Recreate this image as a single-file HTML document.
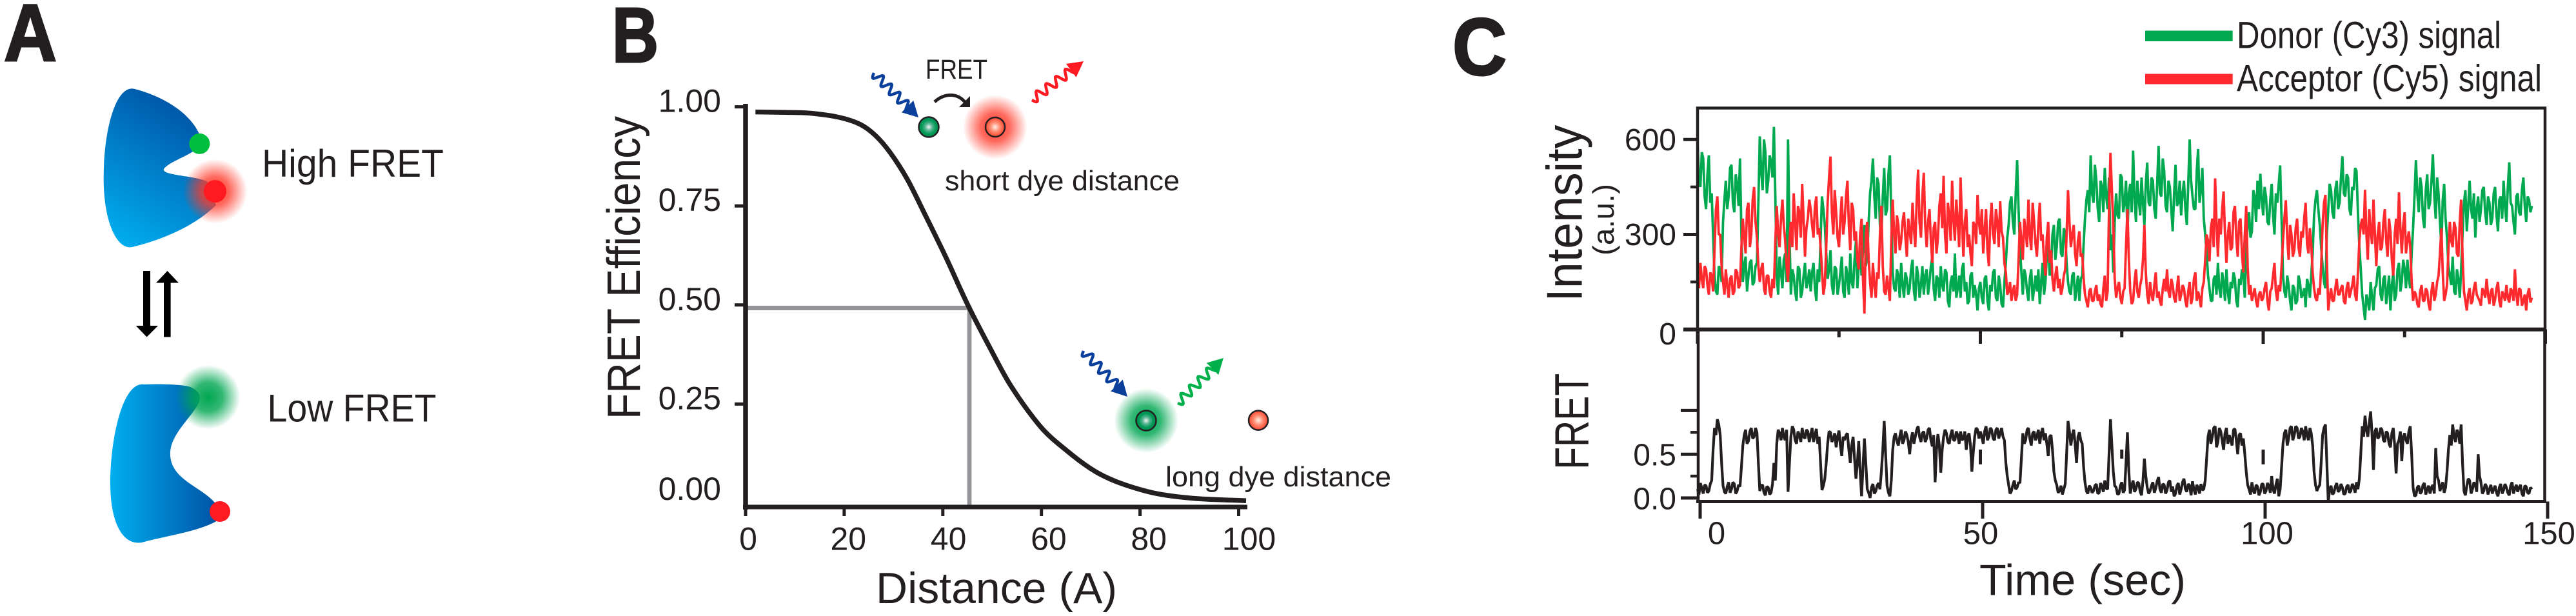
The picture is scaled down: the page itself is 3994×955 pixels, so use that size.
<!DOCTYPE html>
<html lang="en">
<head>
<meta charset="utf-8">
<title>FRET efficiency figure</title>
<style>
html,body{margin:0;padding:0;background:#fff;}
svg{display:block;position:absolute;left:0;top:0;}
text{font-family:"Liberation Sans",sans-serif;fill:#231f20;}
</style>
</head>
<body>
<svg id="fig" xmlns="http://www.w3.org/2000/svg" width="3994" height="955" viewBox="0 0 3994 955">
<defs>
<linearGradient id="gTop" gradientUnits="userSpaceOnUse" x1="170" y1="370" x2="300" y2="170">
<stop offset="0" stop-color="#00aeef"/><stop offset="1" stop-color="#0054a6"/>
</linearGradient>
<linearGradient id="gBot" gradientUnits="userSpaceOnUse" x1="172" y1="0" x2="335" y2="0">
<stop offset="0" stop-color="#00aeef"/><stop offset="1" stop-color="#0054a6"/>
</linearGradient>
<radialGradient id="glowRed">
<stop offset="0" stop-color="#ff2a20" stop-opacity=".95"/><stop offset=".45" stop-color="#ff3a2a" stop-opacity=".75"/><stop offset="1" stop-color="#ff3a2a" stop-opacity="0"/>
</radialGradient>
<radialGradient id="glowGreen">
<stop offset="0" stop-color="#00a651"/><stop offset=".45" stop-color="#00a651" stop-opacity=".8"/><stop offset="1" stop-color="#00a651" stop-opacity="0"/>
</radialGradient>
<radialGradient id="ballGreen">
<stop offset="0" stop-color="#f2f5f2"/><stop offset=".35" stop-color="#5ab595"/><stop offset=".7" stop-color="#009a55"/><stop offset="1" stop-color="#00894f"/>
</radialGradient>
<radialGradient id="ballRed">
<stop offset="0" stop-color="#ffeee8"/><stop offset=".5" stop-color="#ff8a70"/><stop offset="1" stop-color="#f9452f"/>
</radialGradient>
</defs>

<!-- PANEL A -->
<g>
<text x="6" y="94" font-size="125" font-weight="700" textLength="82" lengthAdjust="spacingAndGlyphs" stroke="#231f20" stroke-width="3">A</text>
<path fill="url(#gTop)" d="M209 138 C255 150 296 176 310 210 L312 224 C300 240 262 250 254 262 C250 272 300 272 321 281 L335 318 C300 352 250 372 205 383 C180 388 160 340 160.700 274 C161 200 180 130 209 138 Z"/>
<circle cx="333.500" cy="296.600" r="50" fill="url(#glowRed)"/>
<ellipse cx="309.400" cy="222.900" rx="16" ry="16" fill="#00bf3f"/>
<ellipse cx="333.500" cy="296.600" rx="17.500" ry="17.500" fill="#ff1a22"/>
<text x="406" y="274" font-size="60" textLength="282" lengthAdjust="spacingAndGlyphs">High FRET</text>
<g fill="#000">
<path d="M222 420H233V505H245L227.500 522.500L210.700 505H222Z"/>
<path d="M254 522.500H264.600V438.500H277L259.500 420L242 438.500H254Z"/>
</g>
<path fill="url(#gBot)" d="M224 596 C250 595 285 596 295 600 C310 606 312 616 308 625 C295 650 262 675 264 706 C266 745 315 755 335.800 782.600 L339 806 C310 824 260 830 220 841 C190 846 171 810 171 749 C171 680 190 590 224 596 Z"/>
<circle cx="322.600" cy="615.700" r="50" fill="url(#glowGreen)"/>
<ellipse cx="341" cy="793" rx="16" ry="16" fill="#ff1a22"/>
<text x="414.500" y="653.500" font-size="60" textLength="262" lengthAdjust="spacingAndGlyphs">Low FRET</text>
</g>

<!-- PANEL B -->
<g id="panelB">
<text x="949" y="96" font-size="121" font-weight="700" textLength="72" lengthAdjust="spacingAndGlyphs" stroke="#231f20" stroke-width="3">B</text>
<text transform="translate(992 650) rotate(-90)" font-size="72" textLength="470" lengthAdjust="spacingAndGlyphs">FRET Efficiency</text>
<text x="1358" y="935" font-size="68" textLength="374" lengthAdjust="spacingAndGlyphs">Distance (A)</text>

<circle cx="1543" cy="197" r="50" fill="url(#glowRed)"/>
<circle cx="1440" cy="197" r="15.500" fill="url(#ballGreen)" stroke="#231f20" stroke-width="2.500"/>
<circle cx="1543" cy="197" r="15" fill="url(#ballRed)" stroke="#231f20" stroke-width="2.500"/>
<text x="1435" y="122" font-size="43" textLength="96" lengthAdjust="spacingAndGlyphs">FRET</text>
<path d="M1449 158 C1462 146 1482 142 1496 158" fill="none" stroke="#231f20" stroke-width="5"/>
<path d="M1504 149L1504 166L1487 166Z" fill="#231f20"/>
<text x="1465" y="295" font-size="44" textLength="364" lengthAdjust="spacingAndGlyphs">short dye distance</text>

<circle cx="1777" cy="652" r="50" fill="url(#glowGreen)"/>
<circle cx="1777" cy="652" r="15.500" fill="url(#ballGreen)" stroke="#231f20" stroke-width="2.500"/>
<circle cx="1951" cy="651.600" r="15" fill="url(#ballRed)" stroke="#231f20" stroke-width="2.500"/>
<text x="1807" y="754" font-size="44" textLength="350" lengthAdjust="spacingAndGlyphs">long dye distance</text>
</g>

<!-- PANEL C -->
<g id="panelC">
<text x="2252" y="116" font-size="125" font-weight="700" textLength="84" lengthAdjust="spacingAndGlyphs" stroke="#231f20" stroke-width="3">C</text>
<g>
<rect x="3326" y="47.500" width="135.700" height="16.500" fill="#00a94f"/>
<text x="3468" y="74.300" font-size="58" textLength="410" lengthAdjust="spacingAndGlyphs">Donor (Cy3) signal</text>
<rect x="3326" y="114.500" width="135.700" height="16" fill="#ff2a2e"/>
<text x="3468" y="141.300" font-size="58" textLength="473" lengthAdjust="spacingAndGlyphs">Acceptor (Cy5) signal</text>
</g>
<text transform="translate(2452.700 467.700) rotate(-90)" font-size="78" textLength="274" lengthAdjust="spacingAndGlyphs">Intensity</text>
<text transform="translate(2502 396) rotate(-90)" font-size="46" textLength="111" lengthAdjust="spacingAndGlyphs">(a.u.)</text>
<text transform="translate(2462.500 727.800) rotate(-90)" font-size="74" textLength="149" lengthAdjust="spacingAndGlyphs">FRET</text>
<text x="3069" y="922.600" font-size="68" textLength="320" lengthAdjust="spacingAndGlyphs">Time (sec)</text>
</g>
</svg>

<script>
// ---- Panel B data ----
var distanceValues = [2, 8, 13, 18.8, 23.2, 26.3, 29.3, 32.8, 36.2, 40.6, 45, 49.3, 53.7, 59.4, 63.4, 71.6, 81, 90, 101.5];
var efficiencyValues = [0.987, 0.986, 0.984, 0.974, 0.956, 0.928, 0.885, 0.817, 0.733, 0.621, 0.502, 0.398, 0.298, 0.199, 0.150, 0.075, 0.031, 0.013, 0.006];
var efficiencyTicks = [1.00, 0.75, 0.50, 0.25, 0.00];
var efficiencyTickLabels = ["1.00", "0.75", "0.50", "0.25", "0.00"];
var distanceTicks = [0, 20, 40, 60, 80, 100];
var r0Distance = 45;
var r0Efficiency = 0.5;

// ---- Panel C data: samples on the 0.5 s grid, and the samples between them ----
var sampleStep = 0.25;
var donorSignal = [
590,450,540,380,550,430,170,110,190,340,470,420,520,370,460,540,150,230,170,220,
150,210,610,440,560,470,530,640,170,230,130,240,600,110,170,90,190,120,210,150,
120,210,90,150,420,330,160,250,110,190,140,230,100,170,240,130,280,200,170,330,
230,430,540,350,460,290,510,380,550,180,120,170,210,100,160,130,220,90,170,140,
110,190,150,230,90,160,200,120,180,70,170,240,130,100,210,150,90,180,140,60,
150,80,170,60,120,190,90,140,70,210,330,420,300,535,260,110,170,90,190,130,
120,80,210,150,280,190,330,260,350,230,300,150,110,180,130,90,170,350,440,550,
400,470,340,450,510,380,250,180,430,350,480,400,300,460,565,340,410,480,330,527,
390,470,350,580,420,500,370,450,310,520,400,360,470,330,600,420,380,570,440,350,
240,130,90,170,210,100,150,190,80,130,160,70,140,170,260,370,310,420,470,492,
360,420,330,460,300,400,518,170,100,140,60,130,90,150,110,70,140,170,360,440,
330,200,130,380,440,350,470,400,547,420,480,360,440,500,260,110,30,90,150,60,
140,200,90,170,120,60,180,110,210,150,190,220,130,320,535,370,450,320,490,400,
553,350,430,260,460,290,170,230,110,160,190,400,310,470,350,290,420,380,450,330,
400,350,450,310,420,470,340,528,390,300,430,360,480,340,410,390
];
var donorSignalMid = [
480,560,420,490,400,300,120,200,150,410,380,510,400,490,390,300,200,120,210,140,
200,400,500,600,430,550,480,420,110,180,220,150,300,190,120,200,100,170,130,190,
180,130,190,280,380,240,190,140,200,110,180,120,200,110,150,220,130,260,250,200,
340,470,420,480,330,420,360,490,360,130,190,100,140,180,110,190,120,200,100,200,
170,110,200,130,170,100,140,190,90,150,120,100,170,190,120,80,170,100,110,130,
100,160,90,140,180,100,170,80,150,290,400,340,430,380,180,190,120,160,90,170,
190,150,110,230,170,300,220,340,240,320,210,120,170,90,170,160,270,410,370,430,
520,380,470,370,420,480,300,340,360,490,370,470,430,370,420,470,360,400,460,400,
480,380,460,430,540,390,470,380,430,390,470,430,380,460,470,380,500,400,510,300,
170,90,160,110,130,180,90,120,150,180,90,160,190,100,330,290,440,340,380,410,
450,340,410,360,430,460,350,120,170,90,140,80,170,100,130,160,100,240,410,380,
260,150,300,460,370,440,380,480,430,490,380,450,510,370,190,70,110,60,100,130,
190,110,160,80,170,140,90,190,120,220,130,160,240,420,430,480,350,440,380,470,
420,480,340,410,350,200,140,120,190,100,300,440,390,380,430,380,340,440,370,420,
330,430,360,410,350,390,450,400,340,420,370,440,390,420,370
];
var acceptorSignal = [
170,210,130,190,110,170,250,420,300,150,190,100,170,120,180,140,350,240,400,300,
450,290,150,210,110,170,100,130,390,260,410,280,150,340,430,250,370,460,230,350,
380,290,420,320,190,140,400,546,300,370,260,420,340,470,250,380,310,190,350,50,
340,150,210,100,160,390,120,170,90,410,240,330,280,370,230,310,400,260,505,290,
495,260,380,210,340,290,430,485,240,360,470,280,340,480,230,380,300,200,330,425,
300,240,380,200,400,270,340,405,290,180,120,90,140,110,340,220,310,410,250,340,
230,400,300,170,340,250,120,200,160,130,190,440,260,330,200,310,240,110,70,130,
90,140,110,70,170,120,558,330,100,150,80,130,380,120,90,190,100,160,330,110,
150,90,180,120,75,160,190,100,140,85,170,110,130,70,150,100,180,120,70,150,
300,215,350,477,230,300,436,210,340,260,390,230,350,180,390,110,90,130,70,120,
100,150,60,130,210,90,120,280,408,220,300,250,350,230,290,400,240,270,130,90,
110,330,425,60,130,90,160,110,140,80,150,120,170,90,280,350,441,220,310,410,
200,340,260,380,230,310,170,350,433,240,370,280,260,90,110,70,140,90,120,60,
150,110,170,320,90,140,340,260,320,230,410,120,60,130,90,150,100,75,120,160,
80,130,95,150,70,110,140,85,120,190,75,125,90,60,130,100
];
var acceptorSignalMid = [
130,160,200,140,180,120,380,300,200,110,140,160,110,190,130,260,290,380,260,410,
340,200,190,130,170,120,160,280,300,350,330,200,280,260,340,390,290,350,320,410,
330,390,300,260,110,260,480,370,440,290,350,300,420,330,400,280,220,300,160,300,
220,100,140,180,300,200,110,130,280,300,360,250,340,290,350,270,320,410,340,420,
330,340,280,320,240,390,320,300,400,280,350,410,260,340,340,260,240,340,270,340,
380,310,250,340,300,380,260,310,210,110,150,120,90,220,280,350,260,300,400,270,
330,280,220,290,210,160,170,130,110,170,300,340,300,240,280,230,160,90,120,90,
120,90,80,130,90,380,440,160,130,100,120,260,220,80,150,120,140,220,180,80,
110,140,100,90,130,120,120,160,100,130,90,140,90,120,80,160,90,100,130,220,
280,320,260,340,350,380,300,300,250,370,290,340,240,300,200,140,110,90,110,90,
130,90,120,170,120,140,200,350,290,330,230,320,260,310,350,270,320,180,100,130,
200,400,220,100,90,130,110,130,90,130,100,140,110,180,330,300,300,380,270,300,
300,250,340,280,350,220,300,270,320,330,240,310,150,120,80,120,90,130,80,120,
90,150,240,180,110,250,280,340,240,340,230,90,110,80,130,110,90,130,100,110,
120,75,130,90,120,90,100,130,90,110,130,75,110,110,85
];
var fretSignal = [
.10,.17,.05,.14,.08,.20,.80,.90,.72,.14,.05,.18,.10,.16,.08,.13,.60,.78,.65,.80,
.70,.75,.08,.15,.03,.12,.06,.40,.62,.74,.80,.66,.07,.70,.78,.62,.72,.80,.68,.76,
.72,.64,.79,.70,.09,.22,.62,.75,.68,.58,.77,.48,.66,.74,.40,.70,.22,.65,.02,.68,
.10,.00,.16,.08,.17,.30,.88,.14,.02,.55,.74,.60,.78,.66,.72,.50,.75,.70,.82,.64,
.76,.68,.80,.59,.18,.73,.29,.70,.74,.62,.78,.66,.72,.76,.68,.55,.74,.30,.70,.78,
.76,.62,.82,.70,.78,.66,.80,.74,.70,.40,.15,.08,.20,.12,.17,.74,.66,.80,.60,.76,
.70,.62,.80,.74,.48,.72,.30,.15,.08,.04,.16,.88,.60,.78,.40,.75,.62,.18,.05,.12,
.08,.16,.06,.13,.20,.10,.90,.30,.12,.05,.18,.09,.75,.05,.20,.10,.17,.03,.45,.12,
.08,.18,.11,.24,.06,.15,.09,.20,.13,.05,.17,.10,.22,.07,.14,.19,.04,.12,.16,.10,
.45,.78,.70,.82,.64,.76,.55,.80,.72,.60,.79,.50,.74,.68,.30,.10,.18,.05,.13,.07,
.16,.08,.14,.25,.05,.22,.10,.62,.78,.68,.82,.72,.80,.70,.76,.82,.66,.74,.30,.08,
.15,.72,.84,-.05,.14,.06,.17,.09,.12,.05,.15,.08,.13,.18,.22,.82,.94,.70,.99,.32,
.80,.70,.78,.64,.74,.58,.80,.28,.66,.42,.74,.62,.82,.12,.03,.14,.07,.17,.10,.05,
.15,.57,.20,.13,.06,.30,.72,.84,.64,.74,.84,.08,.14,.20,.10,.15,.50,.18,.08,.13,
.10,.05,.14,.02,.16,.09,.12,.03,.18,.11,.07,.15,.02,.13,.05,.10
];
var fretSignalMid = [
.04,.11,.15,.06,.16,.55,.72,.84,.40,.07,.13,.06,.18,.05,.15,.35,.72,.62,.76,.68,
.80,.40,.14,.06,.13,.04,.16,.20,.78,.66,.70,.78,.40,.82,.66,.76,.64,.70,.78,.64,
.80,.72,.62,.40,.14,.40,.76,.64,.74,.70,.60,.70,.72,.55,.60,.45,.40,.30,.35,.40,
.06,.12,.05,.14,.10,.55,.50,.06,.20,.70,.65,.70,.62,.76,.64,.68,.62,.78,.70,.74,
.64,.78,.66,.72,.55,.60,.55,.78,.64,.72,.66,.76,.62,.66,.76,.70,.60,.52,.80,.68,
.70,.76,.66,.80,.68,.78,.68,.80,.66,.25,.05,.15,.10,.18,.45,.62,.78,.68,.74,.66,
.78,.74,.66,.62,.70,.55,.20,.06,.14,.10,.50,.76,.72,.62,.70,.66,.35,.08,.14,.06,
.14,.05,.17,.07,.11,.50,.60,.14,.04,.14,.06,.40,.30,.14,.07,.18,.07,.20,.25,.05,
.14,.06,.19,.10,.16,.05,.18,.07,.02,.14,.04,.18,.10,.16,.03,.10,.15,.05,.09,.20,
.70,.62,.80,.58,.80,.66,.74,.62,.66,.78,.66,.72,.60,.50,.15,.04,.08,.15,.03,.16,
.05,.17,.06,.10,.15,.02,.35,.74,.60,.80,.66,.82,.68,.80,.66,.72,.80,.60,.15,.12,
.40,.80,.40,.10,.04,.13,.07,.16,.04,.13,.06,.16,.06,.10,.50,.70,.78,.85,.72,.76,
.68,.80,.66,.76,.62,.74,.60,.62,.76,.70,.66,.76,.50,.02,.12,.05,.15,.04,.14,.12,
.05,.25,.08,.18,.12,.55,.60,.70,.78,.62,.40,.03,.22,.05,.18,.07,.25,.05,.16,.04,
.15,.10,.06,.12,.05,.16,.06,.14,.05,.15,.12,.05,.14,.06,.12
];
var intensityMajorTicks = [600, 300, 0];
var intensityMajorLabels = ["600", "300", "0"];
var intensityMinorTicks = [450, 150];
var fretMajorTicks = [0.5, 0.0];
var fretMajorLabels = ["0.5", "0.0"];
var fretUnlabeledTicks = [1.0];
var fretMinorTicks = [0.75, 0.25];
var timeTicks = [0, 50, 100, 150];
var timeTickLabels = ["0", "50", "100", "150"];
var upperTimeTicks = [0, 25, 50, 75, 100, 125, 150];
var strayMarkTimes = [50, 75, 100];

// ---- Axis functions ----
function xDist(d) { return 1156 + 7.645 * d; }
function yEff(e) { return 780 - 614.4 * e; }
function xTrace(t) { return 2632 + 8.77 * t; }
function xLower(t) { return 2636 + 8.76 * t; }
function yInt(v) { return 510.7 - 0.4907 * v; }
function yFret(f) { return 772 - 135.6 * f; }

var NS = "http://www.w3.org/2000/svg";
var panelB = document.getElementById("panelB");
var panelC = document.getElementById("panelC");
var INK = "#231f20";

function interleave(a, b) {
  var out = [];
  for (var i = 0; i < a.length; i++) {
    out.push(a[i]);
    if (i < b.length) out.push(b[i]);
  }
  return out;
}
function line(parent, x1, y1, x2, y2, color, w) {
  var el = document.createElementNS(NS, "line");
  el.setAttribute("x1", x1);
  el.setAttribute("y1", y1);
  el.setAttribute("x2", x2);
  el.setAttribute("y2", y2);
  el.setAttribute("stroke", color);
  el.setAttribute("stroke-width", w);
  parent.appendChild(el);
  return el;
}
function label(parent, str, x, y, size, anchor) {
  var el = document.createElementNS(NS, "text");
  el.setAttribute("x", x);
  el.setAttribute("y", y);
  el.setAttribute("font-size", size);
  el.setAttribute("text-anchor", anchor);
  el.textContent = str;
  parent.appendChild(el);
  return el;
}
function tracePath(parent, values, xf, yf, color, w) {
  var d = "";
  for (var i = 0; i < values.length; i++) {
    d += (i ? "L" : "M") + xf(i * sampleStep).toFixed(1) + " " + yf(values[i]).toFixed(1);
  }
  var el = document.createElementNS(NS, "path");
  el.setAttribute("d", d);
  el.setAttribute("fill", "none");
  el.setAttribute("stroke", color);
  el.setAttribute("stroke-width", w);
  el.setAttribute("stroke-linejoin", "bevel");
  parent.appendChild(el);
  return el;
}
function wavy(parent, x1, y1, x2, y2, color) {
  var len = Math.hypot(x2 - x1, y2 - y1), ux = (x2 - x1) / len, uy = (y2 - y1) / len;
  var nx = -uy, ny = ux, bodyLen = len - 16, cycles = 4.5, amp = 7, d = "";
  for (var s = 0; s <= 60; s++) {
    var f = s / 60, o = amp * Math.sin(f * cycles * 2 * Math.PI);
    var px = x1 + ux * bodyLen * f + nx * o, py = y1 + uy * bodyLen * f + ny * o;
    d += (s ? "L" : "M") + px.toFixed(1) + " " + py.toFixed(1);
  }
  var g = document.createElementNS(NS, "g");
  var p = document.createElementNS(NS, "path");
  p.setAttribute("d", d);
  p.setAttribute("fill", "none");
  p.setAttribute("stroke", color);
  p.setAttribute("stroke-width", 4.5);
  g.appendChild(p);
  var bx = x2 - ux * 24, by = y2 - uy * 24;
  var head = document.createElementNS(NS, "path");
  head.setAttribute("d", "M" + x2 + " " + y2 + "L" + (bx + nx * 13) + " " + (by + ny * 13) + "L" + (bx - nx * 13) + " " + (by - ny * 13) + "Z");
  head.setAttribute("fill", color);
  g.appendChild(head);
  parent.appendChild(g);
  return g;
}

// ---- Panel B drawing ----
var w1 = wavy(panelB, 1355, 113, 1424, 182, "#0a3f9c");


var w2 = wavy(panelB, 1600, 155, 1680, 95, "#ff1a22");


var w3 = wavy(panelB, 1680, 544, 1748, 615, "#0a3f9c");


var w4 = wavy(panelB, 1826, 625, 1897, 555, "#00b04a");



var r0H = line(panelB, xDist(0), yEff(r0Efficiency) + 4.7, xDist(r0Distance), yEff(r0Efficiency) + 4.7, "#939598", 7);


var r0V = line(panelB, xDist(r0Distance) + 3, yEff(r0Efficiency) + 1.2, xDist(r0Distance) + 3, 786, "#939598", 6.7);



var yAxisB = line(panelB, 1156, 161, 1156, 790, INK, 7.5);


var xAxisB = line(panelB, 1152, 786, 1934, 786, INK, 7);



efficiencyTicks.forEach(function (v, i) {
  if (v > 0) {
    var t = line(panelB, 1139, yEff(v), 1156, yEff(v), INK, 5);
    
    
  }
  var l = label(panelB, efficiencyTickLabels[i], 1118, yEff(v) + (v > 0 ? 8 : -5), 50, "end");
  
  
});
distanceTicks.forEach(function (v) {
  var t = line(panelB, xDist(v), 786, xDist(v), 800, INK, 5);
  
  
  var l = label(panelB, String(v), xDist(v) + 4 + 0.12 * v, 852.6, 50, "middle");
  
  
});

// Smooth curve through the sampled points (x-aware Hermite tangents)
var px = distanceValues.map(xDist);
var py = efficiencyValues.map(yEff);
var slopes = px.map(function (x, i) {
  var a = Math.max(0, i - 1), b = Math.min(px.length - 1, i + 1);
  return (py[b] - py[a]) / (px[b] - px[a]);
});
var curveD = "M" + px[0].toFixed(1) + " " + py[0].toFixed(1);
for (var i = 0; i < px.length - 1; i++) {
  var dx = (px[i + 1] - px[i]) / 3;
  curveD += "C" + (px[i] + dx).toFixed(1) + " " + (py[i] + slopes[i] * dx).toFixed(1) + " " +
    (px[i + 1] - dx).toFixed(1) + " " + (py[i + 1] - slopes[i + 1] * dx).toFixed(1) + " " +
    px[i + 1].toFixed(1) + " " + py[i + 1].toFixed(1);
}
var curve = document.createElementNS(NS, "path");
curve.setAttribute("d", curveD);
curve.setAttribute("fill", "none");
curve.setAttribute("stroke", INK);
curve.setAttribute("stroke-width", 7.5);


panelB.appendChild(curve);

// ---- Panel C drawing ----
var donorTrace = tracePath(panelC, interleave(donorSignal, donorSignalMid), xTrace, yInt, "#00a94f", 3.8);


var acceptorTrace = tracePath(panelC, interleave(acceptorSignal, acceptorSignalMid), xTrace, yInt, "#ff2a2e", 3.8);


var fretTrace = tracePath(panelC, interleave(fretSignal, fretSignalMid), xTrace, yFret, "#231f20", 4.2);



var upperFrame = document.createElementNS(NS, "path");
upperFrame.setAttribute("d", "M2632 511V167.500H3946V511");
upperFrame.setAttribute("fill", "none");
upperFrame.setAttribute("stroke", INK);
upperFrame.setAttribute("stroke-width", 4.500);


panelC.appendChild(upperFrame);
var divider = line(panelC, 2610, 510.7, 3948, 510.7, INK, 6);


var lowerFrame = document.createElementNS(NS, "path");
lowerFrame.setAttribute("d", "M2633 510V778M3945.500 510V778");
lowerFrame.setAttribute("fill", "none");
lowerFrame.setAttribute("stroke", INK);
lowerFrame.setAttribute("stroke-width", 4.500);


panelC.appendChild(lowerFrame);
var lowerAxis = line(panelC, 2630, 777.5, 3948, 777.5, INK, 5);



intensityMajorTicks.forEach(function (v, i) {
  var t = line(panelC, 2610, yInt(v), 2632, yInt(v), INK, 5);
  
  
  var l = label(panelC, intensityMajorLabels[i], 2599, yInt(v) + (v > 0 ? 16.5 : 23.5), 48, "end");
  
  
});
intensityMinorTicks.forEach(function (v) {
  var t = line(panelC, 2621, yInt(v), 2632, yInt(v), INK, 4.5);
  
  
});
fretMajorTicks.forEach(function (v, i) {
  var t = line(panelC, 2606, yFret(v), 2632, yFret(v), INK, 5);
  
  
  var l = label(panelC, fretMajorLabels[i], 2599, yFret(v) + 17.5, 48, "end");
  
  
});
fretUnlabeledTicks.forEach(function (v) {
  var t = line(panelC, 2606, yFret(v), 2632, yFret(v), INK, 5);
  
  
});
fretMinorTicks.forEach(function (v) {
  var t = line(panelC, 2621, yFret(v), 2632, yFret(v), INK, 4.5);
  
  
});
upperTimeTicks.forEach(function (v) {
  var isMajor = v % 50 === 0;
  var t = line(panelC, xTrace(v) - (v === 150 ? 1 : 0), 510.7, xTrace(v) - (v === 150 ? 1 : 0), isMajor ? 533 : 523, INK, 5);
  
  
});
timeTicks.forEach(function (v, i) {
  var t = line(panelC, xLower(v), 777.5, xLower(v), 804, INK, 5);
  
  
  var dx = v === 0 ? 25.5 : (v === 150 ? 2 : (v === 50 ? -3 : 3));
  var l = label(panelC, timeTickLabels[i], xLower(v) + dx, 843.5, 49, "middle");
  
  
});
strayMarkTimes.forEach(function (v, i) {
  var m = line(panelC, xTrace(v), 697, xTrace(v), i === 1 ? 711 : 720, INK, 5);
  
  
});
</script>
</body>
</html>
